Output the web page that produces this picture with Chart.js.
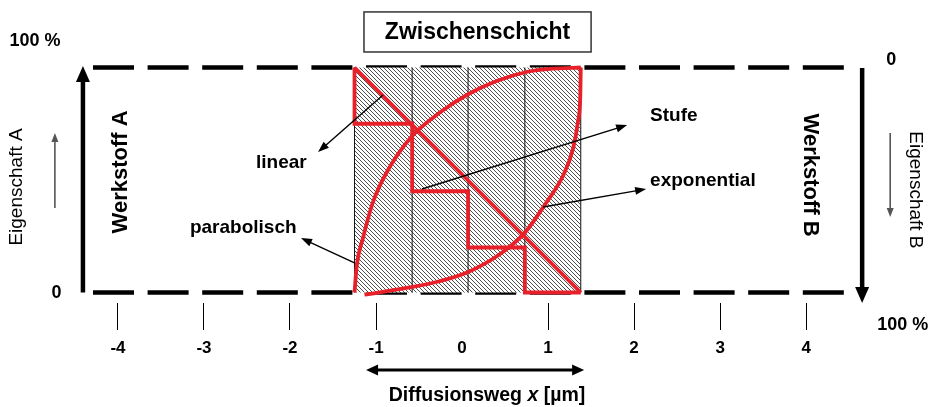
<!DOCTYPE html>
<html>
<head>
<meta charset="utf-8">
<script src="https://cdn.jsdelivr.net/npm/chart.js@4.4.1/dist/chart.umd.min.js"></script>
<style>
  html,body{margin:0;padding:0;background:#fff;}
  canvas{display:block;}
</style>
</head>
<body>
<canvas id="c" width="931" height="407"></canvas>
<script>
// ---------- data ----------
const xTicks = [-4, -3, -2, -1, 0, 1, 2, 3, 4];
const xMin = -4.29, xMax = 4.44;          // extent of the dashed boundary lines
const yMin = -4.67, yMax = 104.67;
const boundaryLevels = [0, 100];           // dashed lines (0 % / 100 %)
const layerBounds = [-1.25, -0.58, 0.07, 0.73, 1.38];   // Zwischenschicht and its 4 columns
const stufeLevels = [100, 75, 45, 20, 0];  // step profile
const linearX = [-1.25, 1.38];
const linearY = [100, 0];
const paraX = [-1.25, -1.224, -1.153, -1.037, -0.882, -0.593, -0.258, 0.065, 0.402, 0.749, 1.064, 1.38];
const paraY = [0, 12, 24, 40, 53, 69, 80, 88, 94, 98, 99.5, 100];
const expoX = [-1.134, -0.648, -0.261, 0.065, 0.438, 0.728, 0.980, 1.175, 1.291, 1.348, 1.375, 1.38];
const expoY = [-1, 2, 5, 9, 17, 26.5, 40, 52, 64, 76, 88, 100];

// ---------- helpers ----------
const pts = (xs, ys) => xs.map((v, i) => ({x: v, y: ys[i]}));
const stufePts = (() => {
  const p = [{x: layerBounds[0], y: stufeLevels[0]}];
  for (let i = 0; i < 4; i++) {
    p.push({x: layerBounds[i], y: stufeLevels[i + 1]});
    p.push({x: layerBounds[i + 1], y: stufeLevels[i + 1]});
  }
  return p;
})();

const FONT = "'Liberation Sans', Arial, sans-serif";
const RED = '#e8202a';

// hatch pattern
const pc = document.createElement('canvas');
pc.width = 4; pc.height = 4;
const pctx = pc.getContext('2d');
pctx.fillStyle = '#fff'; pctx.fillRect(0, 0, 4, 4);
pctx.strokeStyle = '#3a3a3a'; pctx.lineWidth = 0.9;
pctx.beginPath();
pctx.moveTo(-1, -1); pctx.lineTo(5, 5);
pctx.moveTo(-1, 3); pctx.lineTo(1, 5);
pctx.moveTo(3, -1); pctx.lineTo(5, 1);
pctx.stroke();
const ctxMain = document.getElementById('c').getContext('2d');
const hatch = ctxMain.createPattern(pc, 'repeat');

const base = {pointRadius: 0, pointHoverRadius: 0, fill: false, tension: 0};

const datasets = [];
boundaryLevels.forEach(l => datasets.push({...base, data: [{x: xMin, y: l}, {x: xMax, y: l}],
  borderColor: '#000', borderWidth: 4.5, borderDash: [41, 13.6], borderCapStyle: 'butt', order: 9}));
datasets.push({...base, data: [{x: layerBounds[0], y: 100}, {x: layerBounds[4], y: 100}],
  fill: 'origin', backgroundColor: hatch, borderWidth: 0, order: 8});
layerBounds.forEach(b => datasets.push({...base, data: [{x: b, y: 0}, {x: b, y: 100}],
  borderColor: '#111', borderWidth: 1, order: 7}));
datasets.push({...base, label: 'Stufe', data: stufePts, borderColor: RED, borderWidth: 3.8, borderJoinStyle: 'miter', order: 3});
datasets.push({...base, label: 'linear', data: pts(linearX, linearY), borderColor: RED, borderWidth: 3.8, order: 3});
datasets.push({...base, label: 'parabolisch', data: pts(paraX, paraY), borderColor: RED, borderWidth: 3.8, cubicInterpolationMode: 'monotone', order: 3});
datasets.push({...base, label: 'exponential', data: pts(expoX, expoY), borderColor: RED, borderWidth: 3.8, cubicInterpolationMode: 'monotone', order: 3});

// ---------- decorations (anchored in data units) ----------
const arrows = [
  {from: [-4.407, 0], to: [-4.407, 100.7], w: 4.5, hl: 16, hw: 14, color: '#000'},
  {from: [4.651, 99.8], to: [4.651, -4.67], w: 4.5, hl: 16, hw: 14, color: '#000'},
  {from: [-4.733, 37.6], to: [-4.733, 70.9], w: 1.6, hl: 9, hw: 7, color: '#555'},
  {from: [4.977, 70.9], to: [4.977, 33.6], w: 1.6, hl: 9, hw: 7, color: '#555'},
  {from: [-0.919, 87.8], to: [-1.674, 62.4], w: 1.4, hl: 11, hw: 8, color: '#000'},
  {from: [-1.244, 13.1], to: [-1.872, 24.2], w: 1.4, hl: 11, hw: 8, color: '#000'},
  {from: [-0.465, 46], to: [1.919, 74.4], w: 1.4, hl: 11, hw: 8, color: '#000'},
  {from: [0.942, 38], to: [2.14, 46], w: 1.4, hl: 11, hw: 8, color: '#000'},
  {from: [-1.116, -34.4], to: [1.419, -34.4], w: 3, hl: 12, hw: 11, color: '#000', both: true}
];
const texts = [
  {t: 'linear', at: [-2.395, 55.3], font: 'bold 19px', align: 'left', base: 'alphabetic'},
  {t: 'parabolisch', at: [-3.163, 26.4], font: 'bold 19px', align: 'left', base: 'alphabetic'},
  {t: 'Stufe', at: [2.186, 76.4], font: 'bold 19px', align: 'left', base: 'alphabetic'},
  {t: 'exponential', at: [2.186, 47.3], font: 'bold 19px', align: 'left', base: 'alphabetic'},
  {t: 'Eigenschaft A', at: [-5.174, 46.9], font: '19px', rot: -90},
  {t: 'Eigenschaft B', at: [5.267, 45.6], font: '19px', rot: 90},
  {t: 'Werkstoff A', at: [-3.965, 53.6], font: 'bold 22px', rot: -90},
  {t: 'Werkstoff B', at: [4.047, 52.2], font: 'bold 22px', rot: 90},
  {t: '100 %', at: [-4.965, 111.8], font: 'bold 18px'},
  {t: '0', at: [-4.713, -0.36], font: 'bold 18px'},
  {t: '0', at: [4.988, 103.3], font: 'bold 18px'},
  {t: '100 %', at: [5.122, -14.4], font: 'bold 18px'}
];
const titleBox = {t: 'Zwischenschicht', x0: -1.14, x1: 1.5, y0: 106.9, y1: 124.7, font: 'bold 23px'};
const axisTitle = {parts: [['Diffusionsweg ', 'bold'], ['x', 'italic bold'], [' [µm]', 'bold']], at: [0.29, -46], size: 19.5};

const decoPlugin = {
  id: 'deco',
  afterDatasetsDraw(chart) {
    const ctx = chart.ctx;
    const xs = chart.scales.x, ys = chart.scales.y;
    const X = v => xs.getPixelForValue(v), Y = v => ys.getPixelForValue(v);

    function head(tx, ty, a, hl, hw) {
      ctx.beginPath();
      ctx.moveTo(tx, ty);
      ctx.lineTo(tx - hl * Math.cos(a) + hw / 2 * Math.sin(a), ty - hl * Math.sin(a) - hw / 2 * Math.cos(a));
      ctx.lineTo(tx - hl * Math.cos(a) - hw / 2 * Math.sin(a), ty - hl * Math.sin(a) + hw / 2 * Math.cos(a));
      ctx.closePath();
      ctx.fill();
    }
    arrows.forEach(a => {
      const x1 = X(a.from[0]), y1 = Y(a.from[1]), x2 = X(a.to[0]), y2 = Y(a.to[1]);
      const ang = Math.atan2(y2 - y1, x2 - x1);
      ctx.save();
      ctx.strokeStyle = a.color; ctx.fillStyle = a.color; ctx.lineWidth = a.w; ctx.lineCap = 'butt';
      const sx = a.both ? x1 + Math.cos(ang) * a.hl * 0.7 : x1;
      const sy = a.both ? y1 + Math.sin(ang) * a.hl * 0.7 : y1;
      ctx.beginPath();
      ctx.moveTo(sx, sy);
      ctx.lineTo(x2 - Math.cos(ang) * a.hl * 0.7, y2 - Math.sin(ang) * a.hl * 0.7);
      ctx.stroke();
      head(x2, y2, ang, a.hl, a.hw);
      if (a.both) head(x1, y1, ang + Math.PI, a.hl, a.hw);
      ctx.restore();
    });

    texts.forEach(o => {
      ctx.save();
      ctx.fillStyle = '#000';
      ctx.font = o.font + ' ' + FONT;
      ctx.translate(X(o.at[0]), Y(o.at[1]));
      if (o.rot) ctx.rotate(o.rot * Math.PI / 180);
      ctx.textAlign = o.align || 'center';
      ctx.textBaseline = o.base || 'middle';
      ctx.fillText(o.t, 0, 0);
      ctx.restore();
    });

    // title box
    ctx.save();
    const bx0 = X(titleBox.x0), bx1 = X(titleBox.x1), by0 = Y(titleBox.y1), by1 = Y(titleBox.y0);
    ctx.fillStyle = '#fff';
    ctx.fillRect(bx0, by0, bx1 - bx0, by1 - by0);
    ctx.strokeStyle = '#333'; ctx.lineWidth = 1.5;
    ctx.strokeRect(bx0, by0, bx1 - bx0, by1 - by0);
    ctx.fillStyle = '#000';
    ctx.font = titleBox.font + ' ' + FONT;
    ctx.textAlign = 'center'; ctx.textBaseline = 'middle';
    ctx.fillText(titleBox.t, (bx0 + bx1) / 2, (by0 + by1) / 2 + 1);
    ctx.restore();

    // axis title with italic x
    ctx.save();
    ctx.fillStyle = '#000';
    ctx.textBaseline = 'middle'; ctx.textAlign = 'left';
    let total = 0;
    const widths = axisTitle.parts.map(p => {
      ctx.font = p[1] + ' ' + axisTitle.size + 'px ' + FONT;
      const w = ctx.measureText(p[0]).width; total += w; return w;
    });
    let cx = X(axisTitle.at[0]) - total / 2;
    const cy = Y(axisTitle.at[1]);
    axisTitle.parts.forEach((p, i) => {
      ctx.font = p[1] + ' ' + axisTitle.size + 'px ' + FONT;
      ctx.fillText(p[0], cx, cy);
      cx += widths[i];
    });
    ctx.restore();
  }
};

new Chart(ctxMain, {
  type: 'line',
  data: {datasets},
  options: {
    responsive: false,
    animation: false,
    events: [],
    layout: {padding: {left: 93, right: 87, top: 57, bottom: 0}},
    plugins: {legend: {display: false}, tooltip: {enabled: false}},
    scales: {
      x: {
        type: 'linear', min: xMin, max: xMax,
        afterBuildTicks: s => { s.ticks = xTicks.map(v => ({value: v})); },
        afterFit: s => { s.height = 104; },
        border: {display: false},
        grid: {
          drawOnChartArea: false, drawTicks: true, tickLength: 27, lineWidth: 1,
          color: c => (c.tick && c.tick.value === 0) ? 'rgba(0,0,0,0)' : '#000'
        },
        ticks: {
          autoSkip: false, maxRotation: 0, padding: 8, color: '#000',
          font: {family: FONT, weight: 'bold', size: 17},
          callback: v => String(v)
        }
      },
      y: {display: false, min: yMin, max: yMax}
    }
  },
  plugins: [decoPlugin]
});
</script>
</body>
</html>
